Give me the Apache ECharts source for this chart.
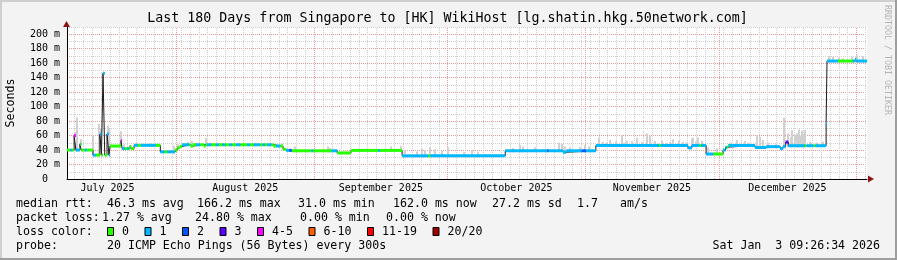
<!DOCTYPE html>
<html>
<head>
<meta charset="utf-8">
<script src="https://cdn.jsdelivr.net/npm/echarts@6/dist/echarts.min.js"></script>
<style>
html,body{margin:0;padding:0;background:#f3f3f3;}
#c{width:897px;height:260px;}
</style>
</head>
<body>
<div id="c"></div>
<script>
// ================= DATA =================
const titleText = 'Last 180 Days from Singapore to [HK] WikiHost [lg.shatin.hkg.50network.com]';
const yAxisName = 'Seconds';
const spanDays = 180;                       // window length
const windowEnd = 'Sat Jan  3 09:26:34 2026';
const monthLabels = ['July 2025', 'August 2025', 'September 2025', 'October 2025', 'November 2025', 'December 2025'];

// median rtt: step changes (days since window start) and values (ms)
const medianT = [0,1.6,2.0,2.9,3.2,5.85,7.4,7.75,8.1,8.5,9.0,9.45,9.7,12.15,12.4,14.2,14.5,15.1,21.0,24.3,
  24.8,25.3,25.9,27.8,28.3,30.8,31.2,46.5,48.6,49.3,50.6,60.8,63.9,75.4,98.6,111.6,112.3,119.0,139.7,140.6,
  143.8,147.6,148.2,148.7,154.8,157.3,160.4,161.1,161.7,162.3,170.8,171.0,177.3,177.6];
const medianMs = [40,60,40,48,40,33,62,33,146,33,62,33,45.5,53,42,45,42,46.5,37.5,40,
  43,45,47.3,45.5,47.3,45.5,47.3,45.5,41,39.5,39,36,39.5,32,39,37,39,46.3,43,46.3,
  34.5,40,44,46.3,43.5,44.7,42,45,51,46,77,163,165.5,163];

// lost pings (out of 20): run starts (days) and counts
const lossT = [0,0.8,1.2,1.6,2.0,3.0,4.0,4.5,5.85,6.5,7.4,7.75,8.1,8.5,9.0,9.7,12.15,12.4,13.0,13.5,
  14.0,15.1,16.0,16.6,20.0,21.0,22.0,22.6,23.5,24.3,25.9,27.5,29.0,30.0,31.5,32.5,33.5,34.2,35.0,35.6,
  36.5,37.2,38.0,39.0,40.5,41.2,42.0,43.5,44.0,44.5,45.0,46.0,47.0,48.0,49.3,50.0,50.6,55.0,55.4,59.5,
  60.8,70.0,70.4,75.4,81.4,81.8,108.0,108.4,115.8,116.8,133.2,133.6,142.3,142.7,145.5,147.6,148.5,148.9,161.7,162.3,
  166.0,166.4,168.0,168.4,173.5,176.8];
const lossN = [0,1,0,4,1,0,1,0,1,0,1,0,1,0,1,0,4,1,0,1,
  0,1,0,1,0,1,0,1,1,0,1,0,1,0,1,0,1,0,1,0,
  1,0,1,0,1,0,1,0,1,0,1,0,1,0,1,2,0,1,0,1,
  0,1,0,1,0,1,2,1,2,1,0,1,0,1,0,1,0,1,3,1,
  0,1,0,1,0,1];

// smoke: peak rtt of the ping spread (days, ms)
const smokeT = [1.7,2.3,3.15,5.85,7.3,7.65,8.3,9.2,9.55,12.2,12.8,14.2,15.7,18.7,20.3,24.1,25.0,
  27.2,28.1,29.3,31.3,32.2,33.3,34.9,38.9,42.3,44.5,46.6,48.4,
  51.3,58.7,59.2,72.9,75.2,76.0,78.8,79.9,80.6,81.7,82.8,84.4,85.7,89.3,91.1,92.5,
  100.4,101.9,102.7,105.3,110.6,111.3,112.1,113.2,115.4,116.6,117.5,
  119.6,120.7,121.4,122.2,123.5,124.8,125.4,126.0,127.1,128.2,129.3,130.4,131.2,132.3,133.8,134.8,135.7,136.4,137.6,138.7,139.3,140.6,140.9,141.5,142.0,142.8,
  144.3,146.2,149.5,150.7,151.7,152.6,153.5,155.3,155.9,156.7,157.8,159.5,161.4,162.3,162.9,163.1,163.8,164.2,164.6,164.9,165.3,165.7,166.1,167.2,168.7,170.2,
  171.5,172.4,173.6,174.7,176.6,177.7,179.2];
const smokeMs = [65,85,55,60,76,70,146,74,70,66,48,47,50,49,49,46,48,
  51,52,50,57,50,49,50,49,50,50,48,49,
  45,45,43,45,46,40,38,42,40,44,41,39,44,37,40,38,
  43,47,45,44,50,48,45,44,44,47,45,
  57.5,51,50,54,52,60.7,50,53,52,57,51,63,60,53,53,50,51,55,53,51,50,56,57,52,57.5,53,
  43.7,42.6,50,53.8,49,52.6,50,60.7,58.5,53.8,50,48,84.6,62.8,58,67.6,60.7,63,68.5,60,66.6,62,67.6,51.5,50.5,51.5,
  169.7,168.9,168,166.8,168.9,171,169.7];

// legend texts
const lossLabels = ['0', '1', '2', '3', '4-5', '6-10', '11-19', '20/20'];
const lossColors = ['#26ff00', '#00b8ff', '#0059ff', '#5e00ff', '#ff00fe', '#ff5e00', '#ff0000', '#a10000'];
const rttHead = 'median rtt:';
const rttStats = ['46.3 ms avg', '166.2 ms max', '31.0 ms min', '162.0 ms now', '27.2 ms sd', '1.7', 'am/s'];
const lossHead = 'packet loss:';
const lossStats = ['1.27 % avg', '24.80 % max', '0.00 % min', '0.00 % now'];
const colorHead = 'loss color:';
const probeHead = 'probe:';
const probeText = '20 ICMP Echo Pings (56 Bytes) every 300s';
const creditText = 'RRDTOOL / TOBI OETIKER';

// ================= HELPERS =================
const DAY = 86400000;
const START = Date.UTC(2025, 6, 7, 9, 26, 34);   // local wall-clock time of window start
const dayOf = ms => (ms - START) / DAY;
function stepAt(ts, vs, t) { let v = vs[0]; for (let i = 0; i < ts.length; i++) { if (ts[i] <= t) v = vs[i]; else break; } return v; }
const lossIndex = n => n <= 3 ? n : n <= 5 ? 4 : n <= 10 ? 5 : n <= 19 ? 6 : 7;

const medianLine = medianT.map((t, i) => [t, medianMs[i]]).concat([[spanDays, medianMs[medianMs.length - 1]]]);
const bps = Array.from(new Set(medianT.concat(lossT))).sort((a, b) => a - b);
const lossSegs = bps.map((a, i) => [a, i + 1 < bps.length ? bps[i + 1] : spanDays, stepAt(medianT, medianMs, a), lossIndex(stepAt(lossT, lossN, a))]);
const smokeData = smokeT.map((t, i) => [t, smokeMs[i], stepAt(medianT, medianMs, t) - 2]);

const gridLines = [];
let d0 = Math.ceil(START / DAY); if (d0 % 2) d0++;
for (let d = d0; d * DAY <= START + spanDays * DAY; d += 2) gridLines.push([dayOf(d * DAY), 0]);
const monthStart = k => Date.UTC(2025, 6 + k, 1);
for (let k = 1; k <= monthLabels.length; k++) { const t = dayOf(monthStart(k)); if (t > 0 && t < spanDays) gridLines.push([t, 1]); }
const monthMid = monthLabels.map((m, k) => [dayOf((monthStart(k) + monthStart(k + 1)) / 2), k]);

// ================= CHART =================
const MONO = '"DejaVu Sans Mono", monospace';
const chart = echarts.init(document.getElementById('c'), null, { renderer: 'canvas', width: 897, height: 260 });

const G = [];
G.push({ type: 'rect', shape: { x: 0, y: 0, width: 897, height: 2 }, style: { fill: '#cfcfcf' }, z: 100 });
G.push({ type: 'rect', shape: { x: 0, y: 0, width: 2, height: 260 }, style: { fill: '#cfcfcf' }, z: 100 });
G.push({ type: 'rect', shape: { x: 0, y: 258, width: 897, height: 2 }, style: { fill: '#9e9e9e' }, z: 100 });
G.push({ type: 'rect', shape: { x: 895, y: 0, width: 2, height: 260 }, style: { fill: '#9e9e9e' }, z: 100 });
G.push({ type: 'polygon', shape: { points: [[63, 27], [66.5, 21], [70, 27]] }, style: { fill: '#8b1414' }, z: 100 });
G.push({ type: 'polygon', shape: { points: [[868, 175.5], [874, 179], [868, 182.5]] }, style: { fill: '#8b1414' }, z: 100 });
G.push({ type: 'text', x: 447.5, y: 19, style: { text: titleText, font: '13.3px ' + MONO, fill: '#000', align: 'center', verticalAlign: 'middle' } });
G.push({ type: 'text', x: 11, y: 103, rotation: Math.PI / 2, style: { text: yAxisName, font: '11.6px ' + MONO, fill: '#000', align: 'center', verticalAlign: 'middle' } });
G.push({ type: 'text', x: 887, y: 60, rotation: -Math.PI / 2, style: { text: creditText, font: '8.3px ' + MONO, fill: '#b4b4b4', align: 'center', verticalAlign: 'middle' } });

const LF = '11.6px ' + MONO;
const rowY = [204, 218, 232, 246];
const txt = (s, x, y, align) => G.push({ type: 'text', x: x, y: y, style: { text: s, font: LF, fill: '#000', align: align || 'left', verticalAlign: 'middle' } });
txt(rttHead, 16, rowY[0]);
[107, 197, 298, 393, 492, 577, 620].forEach((x, i) => txt(rttStats[i], x, rowY[0]));
txt(lossHead, 16, rowY[1]);
[102, 195, 300, 386].forEach((x, i) => txt(lossStats[i], x, rowY[1]));
txt(colorHead, 16, rowY[2]);
let bx = 107;
lossLabels.forEach((lab, i) => {
  G.push({ type: 'rect', shape: { x: bx + 0.5, y: rowY[2] - 4.5, width: 6, height: 8 }, style: { fill: lossColors[i], stroke: '#000', lineWidth: 1 } });
  txt(lab, bx + 15, rowY[2]);
  bx += 30.5 + lab.length * 7;
});
txt(probeHead, 16, rowY[3]);
txt(probeText, 107, rowY[3]);
txt(windowEnd, 880, rowY[3], 'right');

const option = {
  animation: false,
  backgroundColor: '#f3f3f3',
  grid: { left: 67, right: 30, top: 27, bottom: 81, show: true, backgroundColor: '#ffffff', borderWidth: 0 },
  xAxis: {
    type: 'value', min: 0, max: spanDays,
    axisLine: { show: true, lineStyle: { color: '#000', width: 1 } },
    axisTick: { show: false }, axisLabel: { show: false }, splitLine: { show: false }
  },
  yAxis: [
    {
      type: 'value', min: 0, max: 210, interval: 10, position: 'left',
      axisLine: { show: false }, axisTick: { show: false }, axisLabel: { show: false },
      splitLine: { show: true, showMinLine: false, lineStyle: { color: '#cfcfcf', type: [1, 1], width: 1 } }
    },
    {
      type: 'value', min: 0, max: 210, interval: 20, position: 'left',
      axisLine: { show: true, lineStyle: { color: '#000', width: 1 } }, axisTick: { show: false },
      axisLabel: {
        show: true, showMaxLabel: false, margin: 7, fontFamily: MONO, fontSize: 10, color: '#000',
        formatter: v => v === 0 ? '0  ' : (v > 200 ? '' : v + ' m')
      },
      splitLine: { show: true, showMinLine: false, showMaxLine: false, lineStyle: { color: '#eb9a9a', type: [1, 1], width: 1 } }
    }
  ],
  series: [
    {
      type: 'custom', silent: true, z: 1, clip: false, data: gridLines,
      renderItem: (p, api) => {
        const t = api.value(0), major = api.value(1);
        const a = api.coord([t, 0]), b = api.coord([t, 210]);
        const x = Math.round(a[0]) + 0.5;
        return { type: 'line', shape: { x1: x, y1: a[1], x2: x, y2: b[1] }, style: { stroke: major ? '#eb9a9a' : '#cfcfcf', lineWidth: 1, lineDash: [1, 1] } };
      }
    },
    {
      type: 'custom', silent: true, z: 1, clip: false, data: monthMid,
      renderItem: (p, api) => {
        const t = api.value(0), k = api.value(1);
        const a = api.coord([t, 0]);
        return { type: 'text', x: a[0], y: a[1] + 9, style: { text: monthLabels[k], font: '10px ' + MONO, fill: '#000', align: 'center', verticalAlign: 'middle' } };
      }
    },
    {
      type: 'custom', silent: true, z: 2, data: smokeData,
      renderItem: (p, api) => {
        const t = api.value(0), hi = api.value(1), lo = api.value(2);
        const a = api.coord([t, hi]), b = api.coord([t, lo]);
        return { type: 'rect', shape: { x: Math.round(a[0]) - 1, y: a[1], width: 2, height: b[1] - a[1] }, style: { fill: '#d0d0d0' } };
      }
    },
    {
      type: 'line', silent: true, z: 3, data: medianLine, step: 'end', showSymbol: false,
      lineStyle: { color: '#1a1a1a', width: 1 }
    },
    {
      type: 'custom', silent: true, z: 4, data: lossSegs, encode: { x: [0, 1], y: 2 },
      renderItem: (p, api) => {
        const a = api.value(0), b = api.value(1), v = api.value(2), li = api.value(3);
        const p0 = api.coord([a, v]), p1 = api.coord([b, v]);
        return { type: 'rect', shape: { x: p0[0], y: p0[1] - 1.5, width: Math.max(p1[0] - p0[0], 1), height: 3 }, style: { fill: lossColors[li] } };
      }
    }
  ],
  graphic: { elements: G }
};
chart.setOption(option);
</script>
</body>
</html>
